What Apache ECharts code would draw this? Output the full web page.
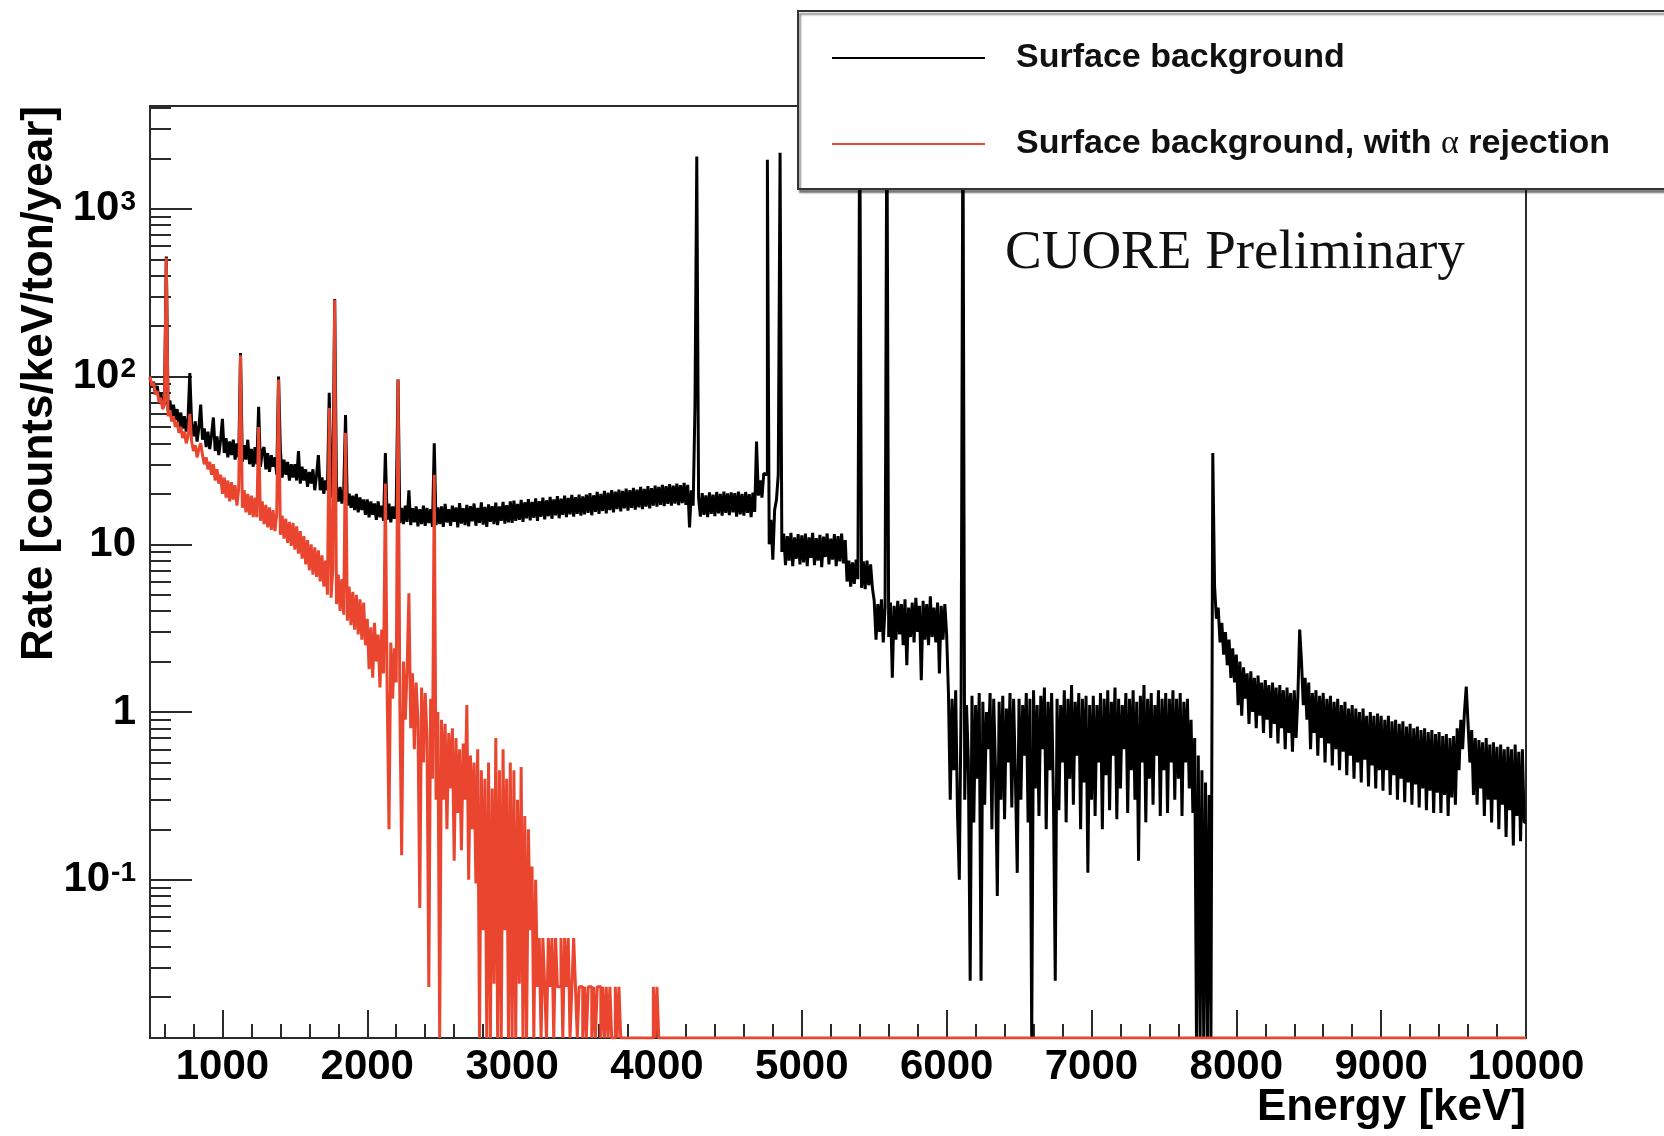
<!DOCTYPE html>
<html>
<head>
<meta charset="utf-8">
<title>CUORE surface background</title>
<script src="https://cdn.jsdelivr.net/npm/echarts@6/dist/echarts.min.js"></script>
<style>
  html, body { margin: 0; padding: 0; background: #fff; }
  #chart { width: 1664px; height: 1136px; }
</style>
</head>
<body>
<div id="chart"></div>
<script>
// histogram binning: 12.5 keV bins, first bin starts at 500 keV
var binStart = 500;
var binWidth = 12.5;
var energyMax = 10000;

// Surface background [counts/keV/ton/year], one value per bin, 40 bins (500 keV) per block
var surfaceRates = [
  98, 86, 93, 78, 88, 72, 80, 66, 74, 520, 62, 72, 58, 68, 55, 64, 50, 61, 49, 58,
  47, 56, 105, 52, 44, 54, 41, 50, 68, 42, 49, 38, 47, 37, 45, 57, 36, 44, 34, 42,
  56, 35, 43, 33, 41, 34, 42, 32, 40, 33, 138, 31, 39, 32, 42, 30, 37, 29, 38, 30,
  66, 29, 36, 38, 28, 35, 27, 34, 29, 33, 26, 100, 37, 25, 32, 26, 31, 24, 30, 25,
  30, 24, 36, 23, 29, 24, 28, 22, 27, 23, 28, 21, 26, 34, 21, 25, 20, 24, 21, 80,
  19, 23, 290, 22, 18, 22, 17.5, 21, 59, 17, 20, 16.5, 19.5, 16, 20, 15.5, 19, 16, 18.5, 15,
  18.5, 14.5, 18, 15, 17.5, 14, 18, 14.5, 17, 13.8, 35, 14, 17.5, 13.5, 16.8, 14.2, 17.2, 96, 13.4, 16.5,
  13.2, 17, 13.6, 21, 13, 16.4, 13.5, 16.8, 12.8, 16.2, 13.2, 17, 12.9, 16.5, 13.4, 16.2, 12.7, 40, 13, 16.6,
  13.2, 16.8, 12.7, 17.4, 13.5, 16.2, 12.9, 17, 13.6, 16.6, 12.6, 17.6, 13.3, 16.4, 13, 17.2, 12.8, 16.9, 13.7, 17.5,
  12.9, 16.5, 13.4, 17.8, 13.1, 16.7, 12.7, 17.3, 13.6, 16.9, 13.2, 17.7, 13, 16.8, 13.8, 17.9, 13.3, 17.1, 13.5, 18,
  13.4, 18.2, 13.8, 17.4, 14, 18.4, 13.6, 17.8, 14.3, 18.6, 13.9, 17.9, 14.4, 18.8, 13.8, 18.1, 14.6, 19, 14.1, 18.3,
  14.7, 19.2, 14.2, 18.5, 14.9, 19.4, 14.3, 18.7, 15, 19.5, 14.5, 18.9, 15.1, 19.7, 14.6, 19.1, 15.2, 19.8, 14.8, 19.3,
  15.1, 19.8, 15.4, 20.2, 14.9, 19.6, 15.6, 20.5, 15.2, 20, 15.8, 20.8, 15.3, 20.3, 16, 21, 15.5, 20.6, 16.2, 21.2,
  15.7, 20.8, 16.4, 21.5, 15.9, 21, 16.5, 21.7, 16.1, 21.2, 16.6, 22, 16.2, 21.4, 16.8, 22.2, 16.4, 21.6, 17, 22.4,
  16.8, 22, 17.2, 22.6, 16.9, 22.2, 17.4, 22.8, 17, 22.4, 17.5, 23, 17.1, 22.5, 17.6, 23.2, 17.2, 22.6, 12.6, 21,
  17, 66, 2050, 19, 14.6, 20.2, 15, 19.6, 14.5, 20.4, 15.2, 19.8, 14.7, 20.5, 15.3, 20, 14.8, 20.6, 15.4, 20.1,
  14.9, 20.4, 15.5, 20.2, 14.6, 20.6, 15.1, 20, 14.8, 20.5, 15.4, 19.9, 14.5, 20.3, 15.6, 41, 19.5, 24, 19, 26.5,
  26, 1960, 10, 14, 8.1, 16, 18.4, 26, 2160, 9, 11.6, 7.5, 11.2, 8, 11.7, 7.4, 11, 8.2, 11.5, 7.6,
  11.3, 7.8, 11.6, 7.4, 11, 8.3, 11.7, 7.5, 10.9, 8, 11.4, 7.3, 11.1, 8.4, 11.6, 7.6, 10.8, 8.1, 11.5, 7.4,
  11.2, 7.9, 11.6, 7.7, 10.6, 6, 8, 5.6, 7.8, 5.8, 8.1, 6.2, 5000, 5.5, 7.9, 5.4, 8, 5.7, 7.6, 5.5,
  4.6, 2.7, 4.4, 3, 4.7, 2.6, 4.2, 5000, 2.8, 4.5, 1.6, 4.3, 2.7, 4.6, 2.9, 4.4, 2.5, 4.7, 1.9, 4.2,
  2.8, 4.5, 2.6, 4.8, 3, 4.3, 1.55, 4.6, 2.7, 4.4, 2.5, 4.9, 2.8, 4.2, 2.6, 4.5, 1.7, 4.3, 2.7, 4.4,
  2.9, 1.3, 0.3, 1.2, 0.45, 1.35, 0.25, 0.1, 1.2, 5000, 0.3, 1.1, 0.5, 0.025, 1.25, 0.22, 1.1, 0.4, 1.3, 0.025,
  1.15, 0.28, 1.0, 0.6, 1.3, 0.2, 1.2, 0.45, 0.08, 1.15, 0.3, 1.25, 0.23, 1.05, 0.5, 1.3, 0.27, 1.2, 0.4, 0.11,
  1.2, 0.3, 1.1, 0.55, 1.3, 0.22, 1.2, 0, 1.35, 0.35, 1.1, 0.24, 1.25, 0.6, 1.4, 0.2, 1.15, 0.45, 1.3, 0.3,
  0.025, 1.2, 0.26, 1.1, 0.5, 1.35, 0.22, 1.2, 0.4, 1.45, 0.28, 1.15, 0.55, 1.3, 0.2, 1.2, 0.38, 1.25, 0.11, 1.1,
  0.3, 1.25, 0.24, 1.1, 0.5, 1.3, 0.2, 1.2, 0.42, 1.35, 0.26, 1.15, 0.55, 1.4, 0.23, 1.2, 0.35, 1.1, 0.6, 1.3,
  0.25, 1.2, 0.45, 1.35, 0.3, 1.15, 0.13, 1.25, 0.5, 1.45, 0.22, 1.2, 0.4, 1.3, 0.28, 1.1, 0.55, 1.35, 0.24, 1.2,
  0.45, 1.3, 0.25, 1.2, 0.5, 1.35, 0.3, 1.2, 0.4, 1.3, 0.24, 1.15, 0.5, 1.2, 0.35, 0.9, 0.25, 0.7, 0, 0.55,
  0, 0.45, 0, 0.38, 0, 0.32, 0, 35, 5.6, 3.6, 4.2, 2.6, 3.4, 2.2, 3, 1.9, 2.7, 1.6, 2.4, 1.5,
  2.2, 1.1, 2.0, 0.95, 1.85, 1.2, 1.7, 0.85, 1.75, 1.0, 1.6, 0.8, 1.65, 0.95, 1.5, 0.75, 1.55, 0.9, 1.45, 0.7,
  1.5, 0.85, 1.4, 0.65, 1.45, 0.8, 1.35, 0.6, 1.4, 0.75, 1.3, 0.58, 1.35, 0.7, 1.25, 3.1, 2.0, 1.1, 1.6, 0.9,
  1.5, 0.6, 1.3, 0.75, 1.35, 0.55, 1.25, 0.7, 1.3, 0.5, 1.2, 0.65, 1.25, 0.48, 1.15, 0.6, 1.2, 0.45, 1.1, 0.58,
  1.15, 0.42, 1.05, 0.55, 1.1, 0.4, 1.05, 0.5, 1.0, 0.38, 1.05, 0.52, 0.95, 0.36, 1.0, 0.48, 0.95, 0.35, 0.98, 0.45,
  0.95, 0.34, 0.9, 0.45, 0.95, 0.32, 0.88, 0.42, 0.9, 0.3, 0.85, 0.4, 0.88, 0.29, 0.82, 0.38, 0.85, 0.28, 0.8, 0.37,
  0.82, 0.27, 0.78, 0.35, 0.8, 0.26, 0.76, 0.34, 0.78, 0.25, 0.74, 0.33, 0.76, 0.25, 0.72, 0.32, 0.74, 0.24, 0.7, 0.31,
  0.72, 0.28, 0.8, 0.45, 0.9, 0.6, 1.0, 1.42, 0.85, 0.5, 0.78, 0.32, 0.7, 0.28, 0.68, 0.35, 0.66, 0.24, 0.7, 0.3,
  0.64, 0.22, 0.66, 0.3, 0.62, 0.2, 0.64, 0.28, 0.6, 0.18, 0.62, 0.26, 0.6, 0.16, 0.64, 0.24, 0.58, 0.17, 0.6, 0.22
];

// Surface background with alpha rejection; 0 = empty bin, bins after the last one are empty
var rejectedRates = [
  100, 88, 92, 78, 82, 70, 75, 64, 68, 510, 58, 63, 54, 58, 50, 54, 46, 50, 43, 47,
  40, 44, 60, 41, 36, 39, 33, 37, 40, 34, 30, 33, 28, 31, 26, 30, 24, 28, 23, 26,
  20, 25, 19, 24, 18, 23.5, 18.5, 22.5, 17, 21.5, 134, 16.5, 21, 15.5, 20, 15, 19.5, 14.5, 19, 14.5,
  50, 13.8, 18, 13.2, 17.2, 12.6, 16.6, 12.2, 16, 12, 15.2, 96, 11.4, 14.8, 10.8, 14.2, 10.2, 13.6, 9.8, 13.4,
  9.3, 12.8, 8.8, 12, 8.2, 11.2, 7.6, 10.6, 7, 10, 6.6, 9.6, 6.4, 9.2, 6, 8.6, 5.6, 8, 5, 65,
  4.8, 7.2, 287, 4.4, 6.6, 4, 6.2, 3.8, 46, 3.5, 5.6, 3.3, 5.2, 3.1, 5, 2.9, 4.7, 2.7, 4.5, 2.5,
  3.6, 1.8, 3.2, 1.6, 3.4, 2, 2.9, 1.4, 3.1, 1.7, 23, 1.3, 0.2, 2.6, 1.2, 2.4, 1.5, 96, 1.1, 0.14,
  2.0, 0.9, 1.8, 5.1, 0.8, 1.7, 0.6, 1.5, 0.9, 0.068, 1.4, 0.5, 1.3, 0.7, 0.023, 1.2, 0.4, 26, 0.3, 1.0,
  0, 0.9, 0.3, 0.85, 0.2, 0.75, 0.35, 0.8, 0.13, 0.7, 0.25, 0.6, 0.15, 0.65, 0.3, 1.1, 0.1, 0.55, 0.2, 0.5,
  0.095, 0.6, 0, 0.45, 0.05, 0.4, 0, 0.5, 0, 0.35, 0.024, 0.7, 0, 0.45, 0, 0.6, 0.05, 0.4, 0, 0.5,
  0, 0.45, 0, 0.3, 0.024, 0.47, 0, 0.24, 0, 0.2, 0.05, 0.12, 0, 0.1, 0.023, 0.045, 0, 0.045, 0.023, 0,
  0.045, 0.023, 0.045, 0, 0.045, 0.023, 0.023, 0.045, 0, 0.045, 0.023, 0.045, 0, 0.023, 0.045, 0.023, 0, 0.023, 0.023, 0,
  0.023, 0, 0.023, 0.023, 0, 0.023, 0, 0.023, 0.023, 0, 0.023, 0, 0.023, 0, 0.023, 0, 0, 0.023, 0, 0.023,
  0, 0, 0, 0, 0, 0, 0, 0, 0, 0, 0, 0, 0, 0, 0, 0, 0, 0, 0.023, 0,
  0.023, 0
];

var seriesNames = ['Surface background', 'Surface background, with α rejection'];
var seriesColors = ['#000000', '#e9452f'];

// axis range and ticks
var yMin = 0.0114;
var yMax = 4100;
var yMajorTicks = [0.1, 1, 10, 100, 1000];
var yTickLabels = ['{b|10}{s|-1}', '{b|1}', '{b|10}', '{b|10}{s|2}', '{b|10}{s|3}'];
var xMajorTicks = [1000, 2000, 3000, 4000, 5000, 6000, 7000, 8000, 9000, 10000];

var yMinorTicks = [];
[0.01, 0.1, 1, 10, 100, 1000].forEach(function (d) {
  for (var k = 2; k <= 9; k++) {
    var v = +(d * k).toPrecision(3);
    if (v > yMin && v < yMax) yMinorTicks.push(v);
  }
});
var xMinorTicks = [];
for (var e = 600; e < energyMax; e += 200) {
  if (e % 1000 !== 0) xMinorTicks.push(e);
}

// histogram -> step points, empty bins drawn on the bottom of the frame
function histPoints(rates) {
  var pts = rates.map(function (v, i) {
    return [binStart + i * binWidth, v > 0 ? v : yMin];
  });
  pts.push([energyMax, pts[pts.length - 1][1]]);
  return pts;
}

var axisColor = '#2a2a2a';
var fontSans = '"Liberation Sans", Arial, Helvetica, sans-serif';

var myChart = echarts.init(document.getElementById('chart'));

var option = {
  animation: false,
  backgroundColor: '#ffffff',
  grid: {
    left: 150, right: 138, top: 106, bottom: 98,
    show: true, borderColor: axisColor, borderWidth: 2,
    outerBoundsMode: 'none'
  },
  xAxis: [{
    type: 'value', min: binStart, max: energyMax, position: 'bottom',
    axisLine: { show: true, lineStyle: { color: axisColor, width: 2 } },
    axisTick: { show: true, inside: true, length: 28, customValues: xMajorTicks, lineStyle: { color: axisColor, width: 2 } },
    axisLabel: {
      customValues: xMajorTicks, margin: 8,
      formatter: function (val) { return String(val); },
      fontFamily: fontSans, fontWeight: 'bold', fontSize: 42, color: '#000'
    },
    splitLine: { show: false }
  }, {
    type: 'value', min: binStart, max: energyMax, position: 'bottom',
    axisLine: { show: false },
    axisTick: { show: true, inside: true, length: 14, customValues: xMinorTicks, lineStyle: { color: axisColor, width: 2 } },
    axisLabel: { show: false },
    splitLine: { show: false }
  }],
  yAxis: [{
    type: 'log', logBase: 10, min: yMin, max: yMax, position: 'left',
    axisLine: { show: true, lineStyle: { color: axisColor, width: 2 } },
    axisTick: { show: true, inside: true, length: 42, customValues: yMajorTicks, lineStyle: { color: axisColor, width: 2 } },
    axisLabel: {
      customValues: yMajorTicks, margin: 14,
      formatter: function (val) {
        for (var i = 0; i < yMajorTicks.length; i++) {
          if (Math.abs(Math.log10(val) - Math.log10(yMajorTicks[i])) < 1e-6) return yTickLabels[i];
        }
        return '';
      },
      rich: {
        b: { fontFamily: fontSans, fontWeight: 'bold', fontSize: 42, lineHeight: 42, color: '#000' },
        s: { fontFamily: fontSans, fontWeight: 'bold', fontSize: 28, color: '#000', verticalAlign: 'top', padding: [0, 0, 0, 1] }
      }
    },
    splitLine: { show: false }
  }, {
    type: 'log', logBase: 10, min: yMin, max: yMax, position: 'left',
    axisLine: { show: false },
    axisTick: { show: true, inside: true, length: 21, customValues: yMinorTicks, lineStyle: { color: axisColor, width: 2 } },
    axisLabel: { show: false },
    splitLine: { show: false }
  }],
  legend: {
    left: 798, top: 11, orient: 'vertical',
    icon: 'rect', itemWidth: 153, itemHeight: 2, itemGap: 46,
    padding: [27, 220, 25, 34],
    backgroundColor: '#ffffff', borderColor: '#333', borderWidth: 2,
    shadowColor: 'rgba(0,0,0,0.45)', shadowOffsetX: 2, shadowOffsetY: 3, shadowBlur: 2,
    selectedMode: false,
    data: seriesNames,
    formatter: function (name) { return name.replace('α', '{g|α}'); },
    textStyle: {
      fontFamily: fontSans, fontWeight: 'bold', fontSize: 34, lineHeight: 40, color: '#111',
      padding: [0, 0, 0, 26],
      rich: { g: { fontFamily: '"Liberation Serif", serif', fontWeight: 'normal', fontSize: 34, lineHeight: 40, color: '#111' } }
    }
  },
  graphic: [{
    type: 'text', left: 1005, top: 226, z: 10,
    style: { text: 'CUORE Preliminary', font: '55px "Liberation Serif", "Times New Roman", serif', fill: '#111' }
  }, {
    type: 'text', right: 138, top: 1086, z: 10,
    style: { text: 'Energy [keV]', font: 'bold 44px ' + fontSans, fill: '#000' }
  }, {
    type: 'text', x: 40, y: 106, rotation: Math.PI / 2, z: 10,
    style: { text: 'Rate [counts/keV/ton/year]', font: 'bold 44px ' + fontSans, fill: '#000', align: 'right', verticalAlign: 'middle' }
  }],
  series: [{
    name: seriesNames[0], type: 'line', step: 'end', symbol: 'none',
    data: histPoints(surfaceRates),
    itemStyle: { color: seriesColors[0] },
    lineStyle: { color: seriesColors[0], width: 3 },
    z: 2
  }, {
    name: seriesNames[1], type: 'line', step: 'end', symbol: 'none',
    data: histPoints(rejectedRates),
    itemStyle: { color: seriesColors[1] },
    lineStyle: { color: seriesColors[1], width: 3 },
    z: 3
  }]
};

myChart.setOption(option);
</script>
</body>
</html>
